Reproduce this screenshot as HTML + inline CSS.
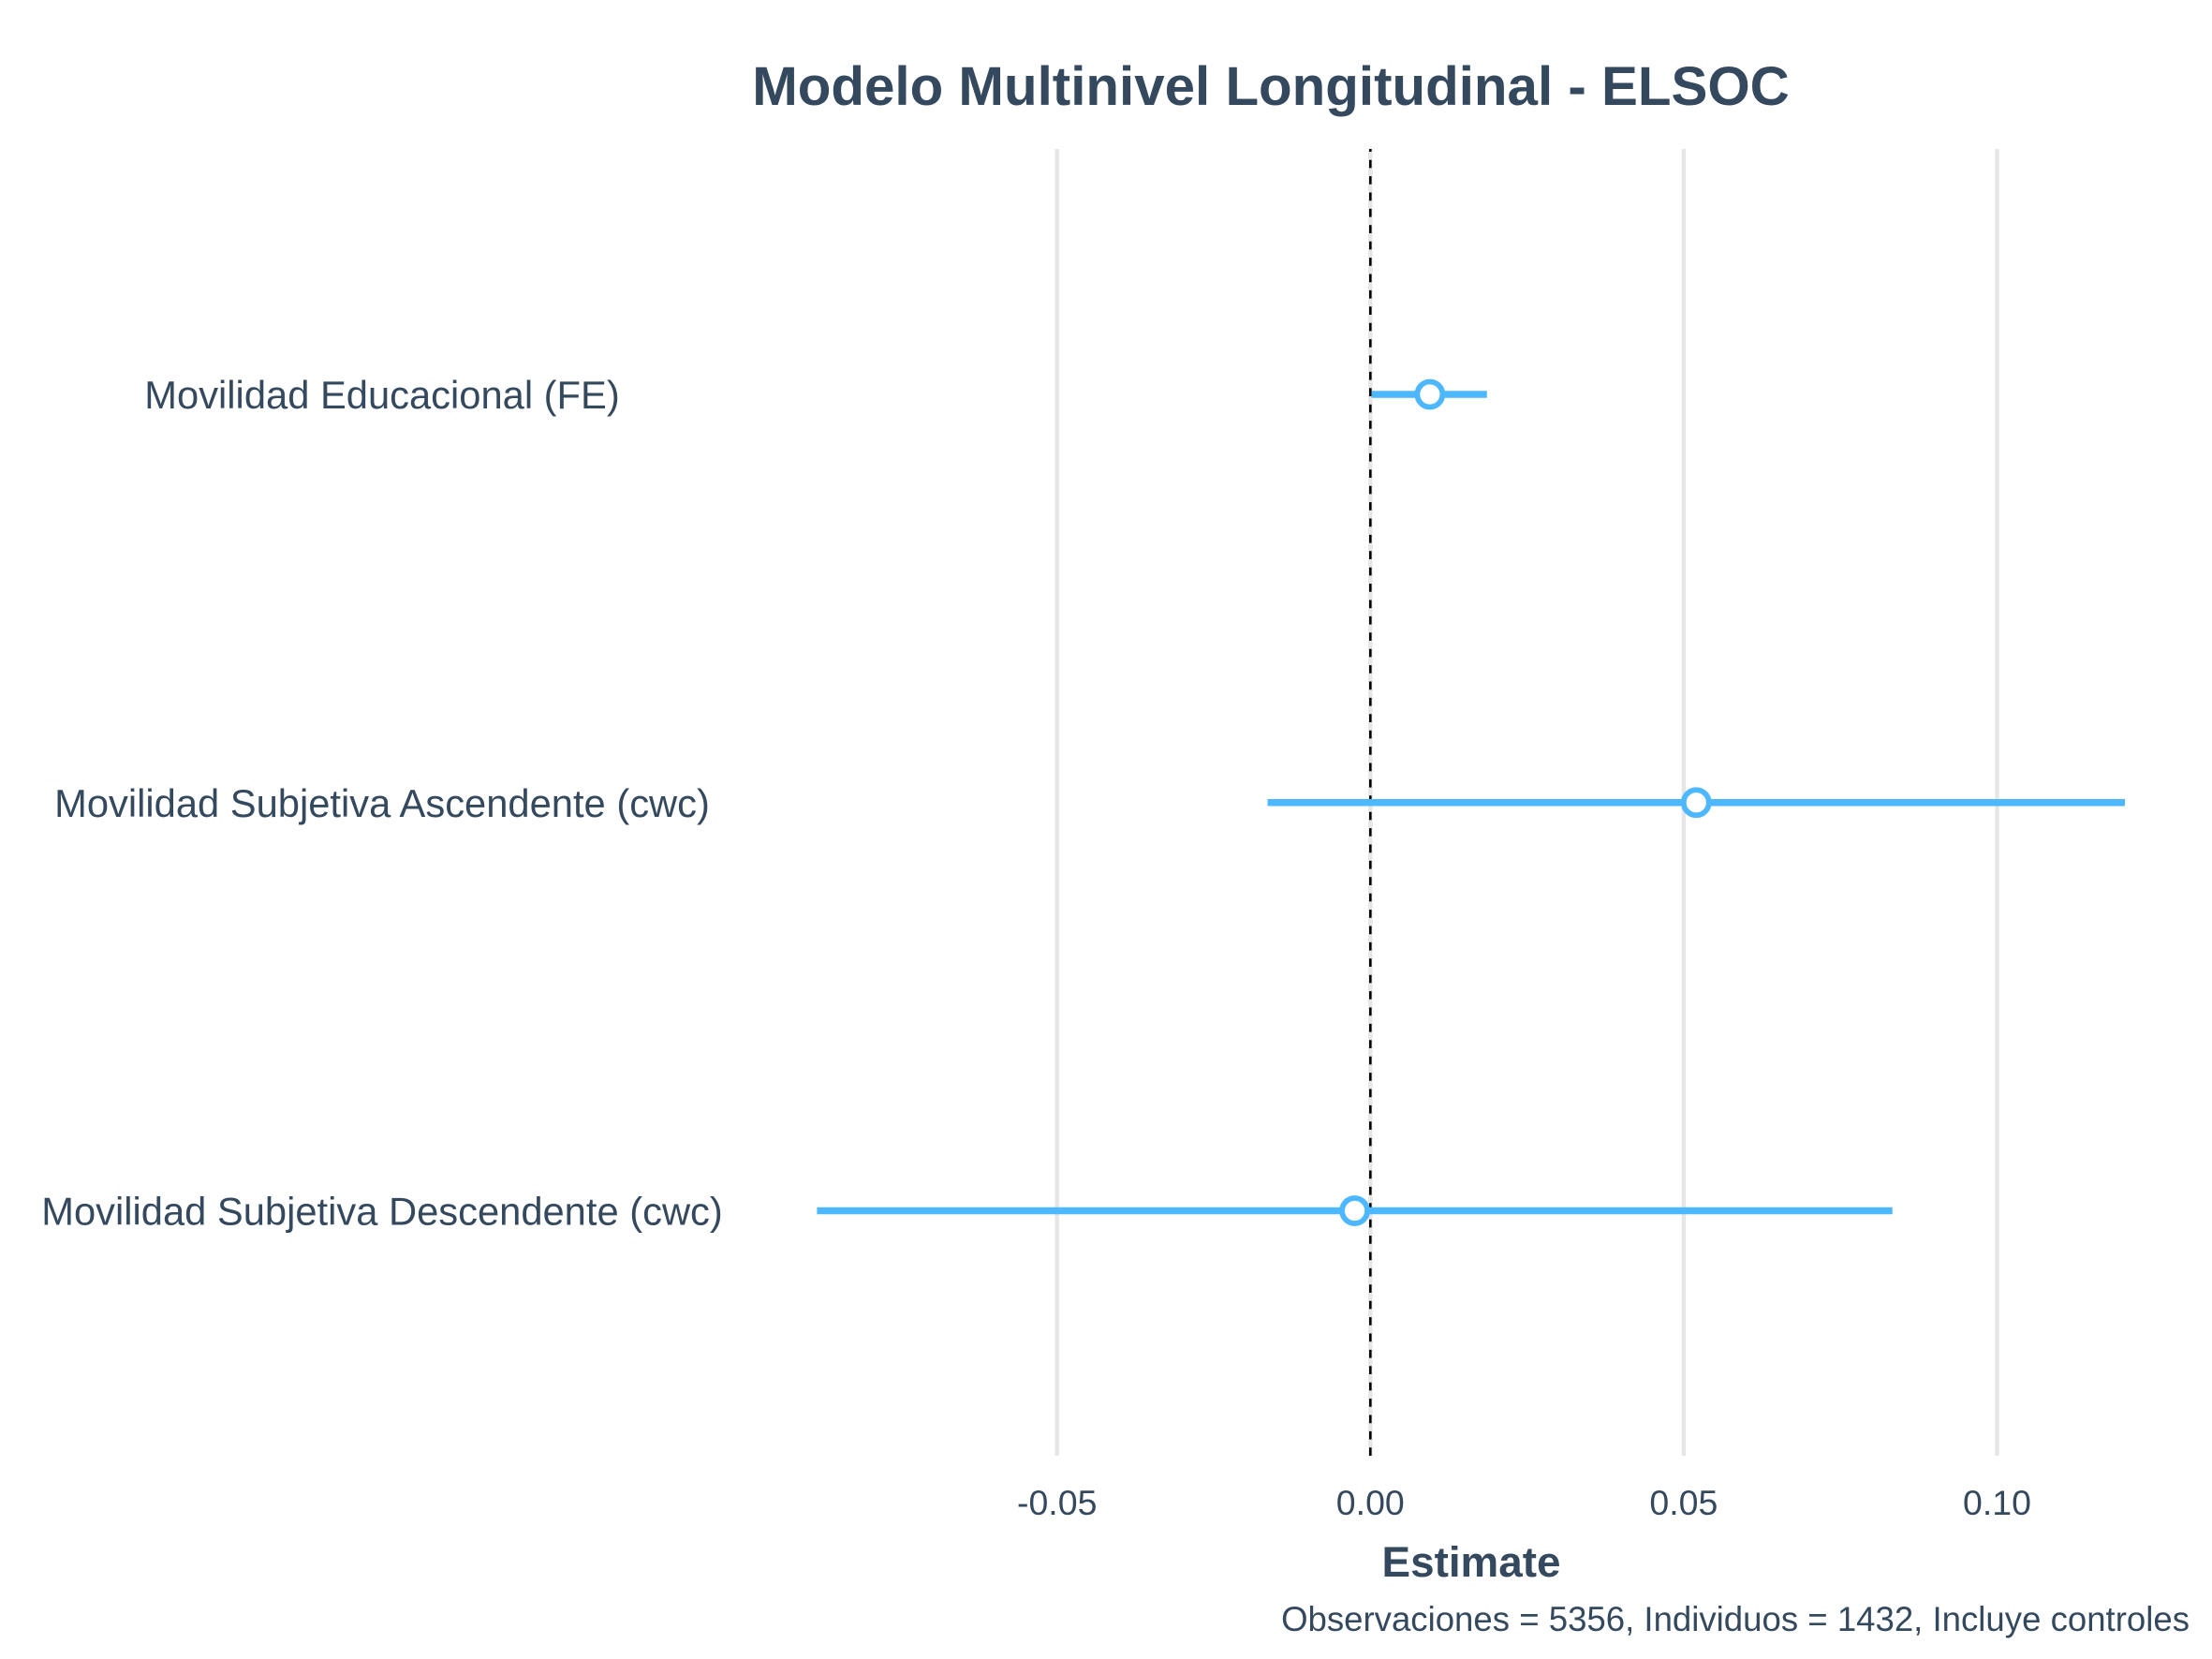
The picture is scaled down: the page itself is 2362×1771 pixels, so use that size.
<!DOCTYPE html>
<html lang="es">
<head>
<meta charset="utf-8">
<title>Modelo Multinivel Longitudinal - ELSOC</title>
<style>
  html, body { margin: 0; padding: 0; background: #ffffff; }
  svg { display: block; }
  text { font-family: "Liberation Sans", Arial, sans-serif; fill: #34495e; }
</style>
</head>
<body>
<svg id="chart" xmlns="http://www.w3.org/2000/svg" width="2362" height="1771" viewBox="0 0 2362 1771">
  <rect x="0" y="0" width="2362" height="1771" fill="#ffffff"/>
  <g id="grid"></g>
  <g id="refline"></g>
  <g id="marks"></g>
  <g id="ylabels"></g>
  <g id="xlabels"></g>
  <text x="1357" y="112" text-anchor="middle" font-size="58.3" font-weight="700">Modelo Multinivel Longitudinal - ELSOC</text>
  <text x="1571" y="1683" text-anchor="middle" font-size="45.8" font-weight="700">Estimate</text>
  <text x="2338" y="1741" text-anchor="end" font-size="36.6">Observaciones = 5356, Individuos = 1432, Incluye controles</text>
</svg>
<script>
const terms = ["Movilidad Educacional (FE)", "Movilidad Subjetiva Ascendente (cwc)", "Movilidad Subjetiva Descendente (cwc)"];
const estimates = [0.0095, 0.0520, -0.0025];
const lowerCI = [0.0002, -0.0164, -0.0883];
const upperCI = [0.0186, 0.1204, 0.0833];
const tickValues = [-0.05, 0, 0.05, 0.10];
const tickLabels = ["-0.05", "0.00", "0.05", "0.10"];

const SVG_NS = "http://www.w3.org/2000/svg";
const PANEL_TOP = 159;
const PANEL_BOTTOM = 1554;
function xScale(v) { return 1463.3 + v * 6692; }
function yScale(i) { return 421 + i * 435.75; }
function make(tag, attrs) {
  const el = document.createElementNS(SVG_NS, tag);
  for (const k in attrs) el.setAttribute(k, attrs[k]);
  return el;
}

const gridG = document.getElementById("grid");
const xLabG = document.getElementById("xlabels");
tickValues.forEach(function (t, i) {
  const line = make("line", { x1: xScale(t), x2: xScale(t), y1: PANEL_TOP, y2: PANEL_BOTTOM, stroke: "#e6e6e6", "stroke-width": 4.4 });
  
  
  gridG.appendChild(line);
  const label = make("text", { x: xScale(t), y: 1617, "text-anchor": "middle", "font-size": 37.5 });
  
  
  label.textContent = tickLabels[i];
  xLabG.appendChild(label);
});

const ref = make("line", { x1: xScale(0), x2: xScale(0), y1: PANEL_BOTTOM, y2: PANEL_TOP, stroke: "#000000", "stroke-width": 2.6, "stroke-dasharray": "8.7 8.7" });


document.getElementById("refline").appendChild(ref);

const marksG = document.getElementById("marks");
const yLabG = document.getElementById("ylabels");
terms.forEach(function (term, i) {
  const y = yScale(i);
  const ci = make("line", { x1: xScale(lowerCI[i]), x2: xScale(upperCI[i]), y1: y, y2: y, stroke: "#4db8ff", "stroke-width": 7.6 });
  
  
  marksG.appendChild(ci);
  const pt = make("circle", { cx: xScale(estimates[i]), cy: y, r: 13.5, fill: "#ffffff", stroke: "#4db8ff", "stroke-width": 5.8 });
  
  
  marksG.appendChild(pt);
  const lab = make("text", { x: 408, y: y + 15, "text-anchor": "middle", "font-size": 41.7 });
  
  
  lab.textContent = term;
  yLabG.appendChild(lab);
});
</script>
</body>
</html>
